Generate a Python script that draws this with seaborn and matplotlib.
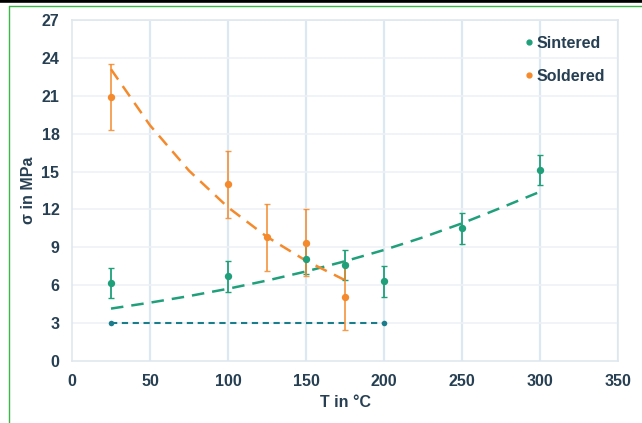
import matplotlib
matplotlib.use("Agg")
import matplotlib.pyplot as plt
import matplotlib.lines as mlines
import seaborn as sns
import pandas as pd

# ---- data ----
sint_T = [25, 100, 150, 175, 200, 250, 300]
sint_sigma = [6.2, 6.7, 8.05, 7.6, 6.3, 10.5, 15.1]
sint_err = [1.2, 1.2, 1.2, 1.2, 1.2, 1.2, 1.2]

sold_T = [25, 100, 125, 150, 175]
sold_sigma = [20.9, 14.0, 9.8, 9.35, 5.1]
sold_err = [2.6, 2.65, 2.65, 2.65, 2.65]

# trend lines
sint_trend_T = [25, 50, 75, 100, 125, 150, 175, 200, 225, 250, 275, 300]
sint_trend_sigma = [4.15, 4.62, 5.14, 5.72, 6.37, 7.09, 7.90, 8.79, 9.79, 10.9, 12.13, 13.4]
sold_trend_T = [25, 50, 75, 100, 125, 150, 175]
sold_trend_sigma = [23.1, 18.66, 15.07, 12.17, 9.83, 7.94, 6.4]

ref_T = [25, 200]
ref_sigma = [3, 3]

x_ticks = [0, 50, 100, 150, 200, 250, 300, 350]
y_ticks = [0, 3, 6, 9, 12, 15, 18, 21, 24, 27]

TEAL = "#1fa07a"
ORANGE = "#f58a2c"
REF = "#1b7c8c"
TXT = "#263f52"
FS = 11.5

sns.set_theme(style="white")
plt.rcParams["font.family"] = ["Liberation Sans", "DejaVu Sans"]

fig = plt.figure(figsize=(6.42, 4.23), dpi=100)
ax = fig.add_axes([72 / 642, 1 - 361 / 423, (618 - 72) / 642, (361 - 20) / 423])

df_s = pd.DataFrame({"T": sint_T, "s": sint_sigma})
df_o = pd.DataFrame({"T": sold_T, "s": sold_sigma})

# grid
for v in x_ticks[1:]:
    ax.axvline(v, color="#dce8f2", lw=1.6, zorder=0)
for v in y_ticks[1:]:
    ax.axhline(v, color="#edf1f6", lw=1.2, zorder=0)

# trend lines
sns.lineplot(x=sint_trend_T, y=sint_trend_sigma, ax=ax, color=TEAL, lw=1.8,
             zorder=2).lines[-1].set_dashes([5, 3.2])
sns.lineplot(x=sold_trend_T, y=sold_trend_sigma, ax=ax, color=ORANGE, lw=1.8,
             zorder=2).lines[-1].set_dashes([5, 3.2])

# reference line
ln = sns.lineplot(x=ref_T, y=ref_sigma, ax=ax, color=REF, lw=1.5, marker="o",
                  markersize=4, markeredgewidth=0, zorder=2).lines[-1]
ln.set_dashes([3, 2.2])

# error bars
ax.errorbar(sint_T, sint_sigma, yerr=sint_err, fmt="none", ecolor=TEAL, elinewidth=1.3,
            capsize=2.0, capthick=1.0, zorder=3)
ax.errorbar(sold_T, sold_sigma, yerr=sold_err, fmt="none", ecolor=ORANGE, elinewidth=1.3,
            capsize=2.0, capthick=1.0, zorder=3, alpha=0.85)

sns.scatterplot(data=df_s, x="T", y="s", ax=ax, color=TEAL, s=28, linewidth=0, zorder=4)
sns.scatterplot(data=df_o, x="T", y="s", ax=ax, color=ORANGE, s=28, linewidth=0, zorder=4)

ax.set_xlim(0, 350)
ax.set_ylim(0, 27)
ax.set_xticks(x_ticks)
ax.set_yticks(y_ticks)
ax.tick_params(axis="both", length=0, labelsize=FS, labelcolor=TXT, pad=9)
for lab in ax.get_xticklabels() + ax.get_yticklabels():
    lab.set_fontweight("bold")
ax.set_xlabel("T in °C", fontsize=FS, fontweight="bold", color=TXT, labelpad=5)
ax.set_ylabel("σ in MPa", fontsize=FS, fontweight="bold", color=TXT, labelpad=4)
for sp in ax.spines.values():
    sp.set_color("#dfe7ef")
    sp.set_linewidth(1.2)

h1 = mlines.Line2D([], [], color=TEAL, marker="o", linestyle="none", markersize=3.5)
h2 = mlines.Line2D([], [], color=ORANGE, marker="o", linestyle="none", markersize=3.5)
leg = ax.legend([h1, h2], ["Sintered", "Soldered"], loc="upper right", frameon=False,
                fontsize=FS, labelspacing=1.1, handletextpad=0.0, handlelength=1.0,
                bbox_to_anchor=(1.003, 0.995))
for t in leg.get_texts():
    t.set_color(TXT)
    t.set_fontweight("bold")

# screenshot borders
fig.add_artist(mlines.Line2D([0, 1], [1 - 1.5 / 423, 1 - 1.5 / 423], color="black", lw=2.6,
                             transform=fig.transFigure))
fig.add_artist(mlines.Line2D([9 / 642, 1], [1 - 6 / 423, 1 - 6 / 423], color="#3cb54a", lw=1.0,
                             transform=fig.transFigure))
fig.add_artist(mlines.Line2D([9 / 642, 9 / 642], [0, 1 - 6 / 423], color="#3cb54a", lw=1.0,
                             transform=fig.transFigure))

fig.savefig("out.png", dpi=100)
